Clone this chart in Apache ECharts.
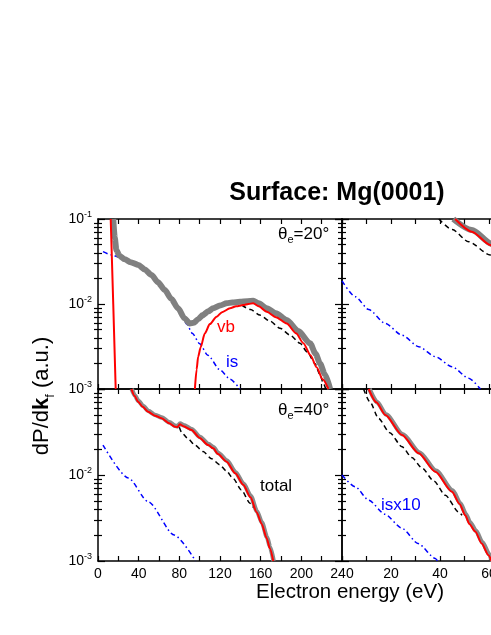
<!DOCTYPE html>
<html>
<head>
<meta charset="utf-8">
<script src="https://cdn.jsdelivr.net/npm/echarts@6/dist/echarts.min.js"></script>
<style>
  html, body { margin: 0; padding: 0; background: #fff; }
  #chart { width: 491px; height: 635px; }
</style>
</head>
<body>
<div id="chart"></div>
<script>
// values: [electron energy (eV), dP/dk_f (a.u.)]
// theta_e = 20 deg, left panel (0-240 eV)
const total20 = [[15, 0.1], [16.5, 0.06], [18.1, 0.043], [21, 0.037], [26.3, 0.0336], [32, 0.031], [39.7, 0.0288],
  [46, 0.0255], [52.6, 0.0219], [59, 0.018], [65.7, 0.0146], [72, 0.0115], [78.8, 0.0089], [85, 0.0068], [90.3, 0.0059],
  [94, 0.006], [98.5, 0.0066], [103, 0.0074], [108.4, 0.0082], [113.3, 0.0089], [120, 0.0096], [126.5, 0.0102],
  [132, 0.0104], [139.6, 0.0106], [147, 0.0108], [152.7, 0.0109], [158, 0.0102], [165.9, 0.0089], [175, 0.0078],
  [185.6, 0.0065], [197, 0.0048], [208.6, 0.00345], [214, 0.0026], [218.4, 0.002], [223, 0.0015], [228.3, 0.001]]
const vbLow20 = [[12.5, 0.1], [15, 0.01], [17.4, 0.001]]
const vbHigh20 = [[95.3, 0.001], [97, 0.0017], [98.5, 0.0024], [101, 0.0031], [105, 0.0045], [110, 0.0058],
  [116.7, 0.0071], [122, 0.008], [129.8, 0.0089], [136, 0.0094], [142.9, 0.0097], [148, 0.01], [152.7, 0.0102],
  [158, 0.0094], [165.9, 0.0081], [175, 0.007], [185.6, 0.0059], [195, 0.0045], [202, 0.00345], [209, 0.0025],
  [215, 0.0018], [221, 0.0013], [226.6, 0.001]]
const is20 = [[4.9, 0.0413], [13, 0.038], [21.4, 0.0354], [26.3, 0.0334], [32, 0.0308], [39.7, 0.0285], [46, 0.0252],
  [52.6, 0.0216], [59, 0.0178], [65.7, 0.0144], [72, 0.0113], [78.8, 0.0087], [84, 0.0068], [87.1, 0.0058],
  [93, 0.0045], [100, 0.0034], [108, 0.0025], [120, 0.00168], [130, 0.0013], [139.6, 0.001]]
const other20 = [[141.4, 0.0097], [150, 0.0086], [159.3, 0.0074], [169, 0.0063], [179, 0.0052], [189, 0.0043],
  [198.7, 0.00345], [206, 0.0027], [213.4, 0.002], [218, 0.0015], [221.7, 0.00117], [224, 0.001]]
// theta_e = 20 deg, right panel (0-80 eV)
const total20b = [[45.4, 0.1], [53, 0.074], [61.5, 0.0505], [63, 0.047]]
const vb20b = [[46.2, 0.1], [53, 0.071], [60.5, 0.0494], [62, 0.046]]
const is20b = [[0, 0.0187], [5.4, 0.0122], [10.9, 0.0086], [17.7, 0.0059], [24.5, 0.0043], [31.3, 0.00315],
  [38.1, 0.0024], [44.9, 0.00183], [51.7, 0.00134], [56.5, 0.001]]
const other20b = [[39.5, 0.1], [45, 0.075], [51.7, 0.054], [60.5, 0.0377], [62, 0.0355]]
// theta_e = 40 deg, left panel
const total40 = [[33.2, 0.1], [36.3, 0.084], [39.7, 0.073], [44.3, 0.0635], [49.6, 0.0556], [56.3, 0.05], [62.8, 0.0466],
  [70.3, 0.041], [75.9, 0.0374], [78.3, 0.0369], [80.8, 0.0397], [84.3, 0.0379], [92.3, 0.0341], [100.3, 0.0277],
  [108.7, 0.0229], [113.6, 0.021], [118.3, 0.018], [126.8, 0.0147], [135.3, 0.0108], [143.2, 0.0079], [150.3, 0.0057],
  [156.3, 0.0038], [161.3, 0.0028], [166.2, 0.0019], [169.3, 0.00145], [172.7, 0.001]]
const vb40 = [[32.9, 0.1], [36, 0.083], [39.4, 0.0713], [44, 0.062], [49.3, 0.0544], [56, 0.049], [62.5, 0.0456],
  [70, 0.04], [75.6, 0.0365], [78, 0.036], [80.5, 0.0388], [84, 0.037], [92, 0.0333], [100, 0.027], [108.4, 0.0223],
  [113.3, 0.0204], [118, 0.0175], [126.5, 0.0143], [135, 0.0105], [142.9, 0.0077], [150, 0.0055], [156, 0.0037],
  [161, 0.0027], [165.9, 0.00184], [169, 0.0014], [172.4, 0.001]]
const is40 = [[4.9, 0.0223], [30, 0.0092], [49.3, 0.0049], [75, 0.002], [96, 0.001]]
const other40 = [[80, 0.036], [82.8, 0.0305], [89, 0.026], [95.3, 0.0223], [103.4, 0.0187], [111.7, 0.0155],
  [119.9, 0.0131], [126, 0.0112], [133, 0.0091], [141, 0.0067], [149.5, 0.0047], [153, 0.0042]]
// theta_e = 40 deg, right panel
const total40b = [[11.2, 0.1], [14.3, 0.0705], [18, 0.0505], [24.8, 0.0297], [31.6, 0.0183], [38.4, 0.0112],
  [45.2, 0.0066], [48.3, 0.0047], [50.6, 0.0035], [52.3, 0.0028], [54.7, 0.00225], [57.3, 0.00165], [60.1, 0.0012], [61.3, 0.001]]
const vb40b = [[10.9, 0.1], [14, 0.07], [17.7, 0.0499], [24.5, 0.0292], [31.3, 0.0179], [38.1, 0.0109],
  [44.9, 0.0064], [48, 0.0046], [50.3, 0.0034], [52, 0.0027], [54.4, 0.0022], [57, 0.0016], [59.8, 0.00117], [61, 0.001]]
const is40b = [[0, 0.01], [5.4, 0.0073], [10.9, 0.0051], [17.5, 0.0035], [24.5, 0.0024], [31, 0.0016],
  [38.1, 0.00107], [39, 0.001]]
const other40b = [[8.8, 0.1], [11.5, 0.07], [14.9, 0.0456], [19.5, 0.031], [24.5, 0.0213], [28.5, 0.016],
  [32.7, 0.012], [37.5, 0.0085], [42.2, 0.0058], [47.6, 0.0037], [49, 0.0034]]

// axis ranges and ticks
const leftRange = { min: 0, max: 240, step: 20 }
const rightRange = { min: 0, max: 80, step: 10 }
const yMin = 0.001
const yMax = 0.1
const minorTicks = [2, 3, 4, 5, 6, 7, 8, 9].flatMap(m => [m * 0.001, m * 0.01])

const FONT = 'Liberation Sans, Arial, Helvetica, sans-serif'

const grids = [
  { left: 98, top: 219, width: 244, height: 170 }, // top left
  { left: 342, top: 219, width: 196, height: 170 }, // top right
  { left: 98, top: 389, width: 244, height: 172 }, // bottom left
  { left: 342, top: 389, width: 196, height: 172 } // bottom right
].map(g => Object.assign(g, { containLabel: false, outerBoundsMode: 'none' }))

const lineCol = { color: '#000', width: 1.5 }

function xAxes (g, range, labels) {
  const base = {
    type: 'value',
    gridIndex: g,
    min: range.min,
    max: range.max,
    interval: range.step,
    splitLine: { show: false },
    axisLine: { onZero: false, lineStyle: lineCol },
    axisTick: { inside: true, length: 5, lineStyle: { color: '#000', width: 1.2 } }
  }
  return [
    Object.assign({}, base, {
      position: 'bottom',
      axisLabel: labels
        ? { show: true, color: '#000', fontFamily: FONT, fontSize: 14, margin: 6, hideOverlap: false, formatter: labels }
        : { show: false }
    }),
    Object.assign({}, base, { position: 'top', axisLabel: { show: false } })
  ]
}

function yAxes (g, showLabels, hideTop) {
  const base = {
    type: 'log',
    logBase: 10,
    gridIndex: g,
    min: yMin,
    max: yMax,
    splitLine: { show: false },
    axisLine: { onZero: false, lineStyle: lineCol }
  }
  const major = {
    axisTick: { inside: true, length: 7, lineStyle: { color: '#000', width: 1.2 } }
  }
  const minor = {
    axisLine: { show: false },
    axisLabel: { show: false },
    axisTick: { inside: true, length: 4, customValues: minorTicks, lineStyle: { color: '#000', width: 1.2 } }
  }
  const label = showLabels
    ? {
        show: true,
        margin: 6,
        formatter: v => (hideTop && v > 0.05 ? '' : '{m|10}{s|' + Math.round(Math.log10(v)) + '}'),
        rich: {
          m: { fontFamily: FONT, fontSize: 14, color: '#000', lineHeight: 18 },
          s: { fontFamily: FONT, fontSize: 9, color: '#000', verticalAlign: 'top', lineHeight: 10 }
        }
      }
    : { show: false }
  return [
    Object.assign({}, base, major, { position: 'left', axisLabel: label }),
    Object.assign({}, base, minor, { position: 'left' }),
    Object.assign({}, base, major, { position: 'right', axisLabel: { show: false } }),
    Object.assign({}, base, minor, { position: 'right' })
  ]
}

const leftLabels = v => (v % 40 === 0 ? String(v) : '')
const rightLabels = v => (v !== 0 && v % 20 === 0 ? String(v) : '')

const xAxis = [].concat(
  xAxes(0, leftRange, null),
  xAxes(1, rightRange, null),
  xAxes(2, leftRange, leftLabels),
  xAxes(3, rightRange, rightLabels)
)
const yAxis = [].concat(
  yAxes(0, true, false),
  yAxes(1, false, false),
  yAxes(2, true, true),
  yAxes(3, false, false)
)

const grayTop = { color: '#808080', width: 6 }
const grayBottom = { color: '#8a8a8a', width: 4.5 }
const redStyle = { color: '#ff0000', width: 2 }
const blueStyle = { color: '#0000ff', width: 1.5, type: [5, 3, 1.5, 3] }
const dashStyle = { color: '#000000', width: 1.5, type: [5, 3.5] }

function line (g, data, style, z, smooth) {
  return {
    type: 'line',
    xAxisIndex: g * 2,
    yAxisIndex: g * 4,
    data: data,
    symbol: 'none',
    showSymbol: false,
    smooth: smooth === undefined ? 0.25 : smooth,
    smoothMonotone: 'x',
    clip: true,
    silent: true,
    z: z,
    lineStyle: style
  }
}

const series = [
  line(0, is20, blueStyle, 2),
  line(0, total20, grayTop, 3),
  line(0, other20, dashStyle, 4),
  line(0, vbLow20, redStyle, 5, false),
  line(0, vbHigh20, redStyle, 5),
  line(1, is20b, blueStyle, 2),
  line(1, total20b, grayTop, 3),
  line(1, other20b, dashStyle, 4),
  line(1, vb20b, redStyle, 5),
  line(2, is40, blueStyle, 2),
  line(2, total40, grayBottom, 3),
  line(2, other40, dashStyle, 4),
  line(2, vb40, redStyle, 5),
  line(3, is40b, blueStyle, 2),
  line(3, total40b, grayBottom, 3),
  line(3, other40b, dashStyle, 4),
  line(3, vb40b, redStyle, 5)
]

function txt (x, y, text, size, color, extra) {
  return {
    type: 'text',
    x: x,
    y: y,
    z: 100,
    style: Object.assign({
      text: text,
      fontFamily: FONT,
      fontSize: size,
      fill: color,
      align: 'left',
      verticalAlign: 'middle'
    }, extra || {})
  }
}

const thetaRich = {
  t: { fontFamily: FONT, fontSize: 17, fill: '#000', lineHeight: 22 },
  e: { fontFamily: FONT, fontSize: 11, fill: '#000', verticalAlign: 'bottom', lineHeight: 11 }
}

const graphic = [
  txt(337, 193, 'Surface: Mg(0001)', 25, '#000', { fontWeight: 'bold', align: 'center' }),
  txt(350, 592, 'Electron energy (eV)', 20.5, '#000', { align: 'center' }),
  {
    type: 'text',
    x: 42,
    y: 396,
    rotation: Math.PI / 2,
    z: 100,
    style: {
      text: '{n|dP/d}{k|k}{f|f}{n| (a.u.)}',
      align: 'center',
      verticalAlign: 'middle',
      rich: {
        n: { fontFamily: FONT, fontSize: 22, fill: '#000', lineHeight: 30 },
        k: { fontFamily: FONT, fontSize: 22, fontWeight: 'bold', fill: '#000', lineHeight: 30 },
        f: { fontFamily: FONT, fontSize: 13, fill: '#000', verticalAlign: 'bottom', lineHeight: 13 }
      }
    }
  },
  txt(278, 234, '{t|θ}{e|e}{t|=20°}', 17, '#000', { rich: thetaRich }),
  txt(278, 410, '{t|θ}{e|e}{t|=40°}', 17, '#000', { rich: thetaRich }),
  txt(217, 327, 'vb', 17, '#ff0000'),
  txt(226, 362, 'is', 17, '#0000ff'),
  txt(260, 486, 'total', 17, '#000'),
  txt(381, 505, 'isx10', 17, '#0000ff')
]

const chart = echarts.init(document.getElementById('chart'), null, { renderer: 'canvas' })
chart.setOption({
  animation: false,
  backgroundColor: '#ffffff',
  grid: grids,
  xAxis: xAxis,
  yAxis: yAxis,
  series: series,
  graphic: graphic
})
</script>
</body>
</html>
